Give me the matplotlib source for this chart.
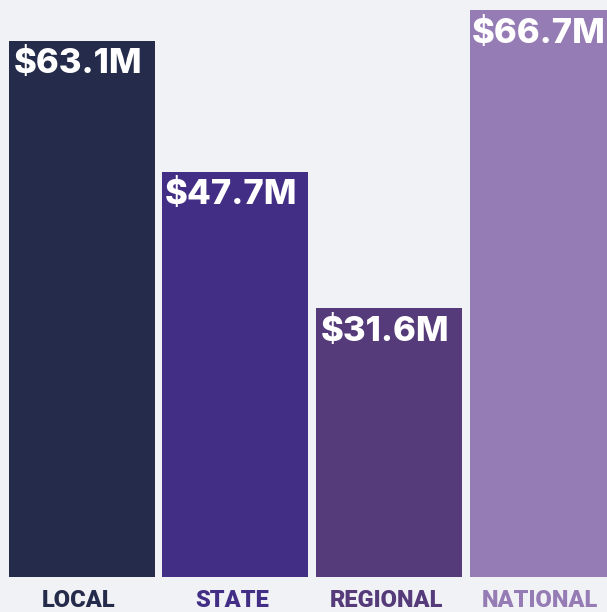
import matplotlib.pyplot as plt

categories = ['LOCAL', 'STATE', 'REGIONAL', 'NATIONAL']
values = [63.1, 47.7, 31.6, 66.7]
labels = ['$63.1M', '$47.7M', '$31.6M', '$66.7M']
colors = ['#252b4a', '#432e86', '#553b7a', '#967cb4']

bg = '#f1f2f6'

fig = plt.figure(figsize=(6.07, 6.12), dpi=100, facecolor=bg)
ax = fig.add_axes([0, 0, 1, 1])
ax.set_facecolor(bg)

x = list(range(len(categories)))
ax.bar(x, values, width=0.951, color=colors)

# value labels inside the top of each bar
for xi, v, lab in zip(x, values, labels):
    ax.annotate(lab, (xi, v), xytext=(-3, -5.5), textcoords='offset points',
                ha='center', va='top', color='white', fontsize=25,
                fontweight=800, family='Inter')

# category labels under the bars
for xi, cat, c in zip(x, categories, colors):
    ax.text(xi - 0.02, -2.8, cat, ha='center', va='center', color=c,
            fontsize=17, fontweight=900, family='Roboto')

ax.set_xlim(-0.534, 3.42)
ax.set_ylim(-4.12, 67.88)
ax.axis('off')

fig.savefig('out.png', dpi=100, facecolor=bg)
